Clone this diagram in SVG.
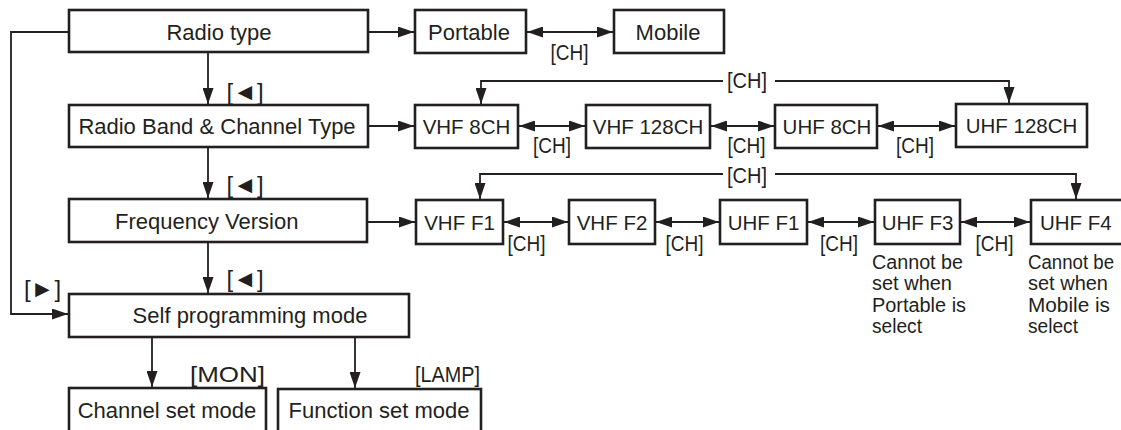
<svg xmlns="http://www.w3.org/2000/svg" width="1121" height="430" viewBox="0 0 1121 430">
<style>
.box{fill:#fff;stroke:#231f20;stroke-width:2.6}
.ln{fill:none;stroke:#231f20;stroke-width:1.8}
.t{font-family:"Liberation Sans",Arial,sans-serif;fill:#231f20}
.big{font-size:22px}
.mid{font-size:20.5px}
.c{font-size:21.5px}
.n{font-size:20px}
.sym{font-size:24px}
.m{text-anchor:middle}
</style>
<defs>
<marker id="ah" markerUnits="userSpaceOnUse" markerWidth="16" markerHeight="11" refX="16" refY="5.5" orient="auto-start-reverse"><path d="M0,0 L16,5.5 L0,11 z" fill="#231f20"/></marker>
</defs>
<rect width="1121" height="430" fill="#fff"/>
<g id="connectors">
<path class="ln" d="M69,32 H11 V314 H68" marker-end="url(#ah)"/>
<path class="ln" d="M208,52 V104" marker-end="url(#ah)"/>
<path class="ln" d="M208,147 V198" marker-end="url(#ah)"/>
<path class="ln" d="M208,242 V293" marker-end="url(#ah)"/>
<path class="ln" d="M368,32 H414" marker-end="url(#ah)"/>
<path class="ln" d="M527,32 H613" marker-start="url(#ah)" marker-end="url(#ah)"/>
<path class="ln" d="M368,126 H414" marker-end="url(#ah)"/>
<path class="ln" d="M519,126 H585" marker-start="url(#ah)" marker-end="url(#ah)"/>
<path class="ln" d="M711,126 H774" marker-start="url(#ah)" marker-end="url(#ah)"/>
<path class="ln" d="M878,126 H955" marker-start="url(#ah)" marker-end="url(#ah)"/>
<path class="ln" d="M723,81 H481 V104" marker-end="url(#ah)"/>
<path class="ln" d="M775,81 H1009 V103" marker-end="url(#ah)"/>
<path class="ln" d="M367,222 H415" marker-end="url(#ah)"/>
<path class="ln" d="M504,222 H568" marker-start="url(#ah)" marker-end="url(#ah)"/>
<path class="ln" d="M656,222 H719" marker-start="url(#ah)" marker-end="url(#ah)"/>
<path class="ln" d="M808,222 H874" marker-start="url(#ah)" marker-end="url(#ah)"/>
<path class="ln" d="M961,222 H1030" marker-start="url(#ah)" marker-end="url(#ah)"/>
<path class="ln" d="M723,174 H480 V199" marker-end="url(#ah)"/>
<path class="ln" d="M775,174 H1076 V199" marker-end="url(#ah)"/>
<path class="ln" d="M152,337 V387" marker-end="url(#ah)"/>
<path class="ln" d="M355,337 V388" marker-end="url(#ah)"/>
<text class="t c m" x="569.5" y="60" textLength="38" lengthAdjust="spacingAndGlyphs">[CH]</text>
<text class="t c m" x="552" y="153" textLength="38" lengthAdjust="spacingAndGlyphs">[CH]</text>
<text class="t c m" x="746.5" y="153" textLength="38" lengthAdjust="spacingAndGlyphs">[CH]</text>
<text class="t c m" x="915" y="153" textLength="38" lengthAdjust="spacingAndGlyphs">[CH]</text>
<text class="t c m" x="747" y="88" textLength="40" lengthAdjust="spacingAndGlyphs">[CH]</text>
<text class="t c m" x="747" y="183" textLength="40" lengthAdjust="spacingAndGlyphs">[CH]</text>
<text class="t c m" x="526.5" y="251" textLength="38" lengthAdjust="spacingAndGlyphs">[CH]</text>
<text class="t c m" x="684.5" y="251" textLength="38" lengthAdjust="spacingAndGlyphs">[CH]</text>
<text class="t c m" x="839" y="251" textLength="38" lengthAdjust="spacingAndGlyphs">[CH]</text>
<text class="t c m" x="994.5" y="251" textLength="38" lengthAdjust="spacingAndGlyphs">[CH]</text>
<text class="t sym m" x="245" y="100">[◄]</text>
<text class="t sym m" x="245" y="193">[◄]</text>
<text class="t sym m" x="245" y="287">[◄]</text>
<text class="t sym m" x="42.5" y="297">[►]</text>
<text class="t big" x="265" y="382" text-anchor="end" textLength="75" lengthAdjust="spacingAndGlyphs">[MON]</text>
<text class="t c" x="480" y="382" text-anchor="end" textLength="65" lengthAdjust="spacingAndGlyphs">[LAMP]</text>
</g>
<g id="n-radio-type"><rect class="box" x="69" y="10" width="299" height="42"/><text class="t big m" x="219" y="40">Radio type</text></g>
<g id="n-portable"><rect class="box" x="415" y="10" width="111" height="43"/><text class="t big m" x="469" y="40">Portable</text></g>
<g id="n-mobile"><rect class="box" x="614" y="10" width="110" height="43"/><text class="t big m" x="668" y="40">Mobile</text></g>
<g id="n-band"><rect class="box" x="69" y="105" width="299" height="42"/><text class="t big m" x="217" y="134">Radio Band &amp; Channel Type</text></g>
<g id="n-vhf8"><rect class="box" x="415" y="105" width="103" height="43"/><text class="t mid m" x="466.5" y="134">VHF 8CH</text></g>
<g id="n-vhf128"><rect class="box" x="586" y="105" width="124" height="43"/><text class="t mid m" x="648" y="134">VHF 128CH</text></g>
<g id="n-uhf8"><rect class="box" x="775" y="105" width="102" height="43"/><text class="t mid m" x="827" y="134">UHF 8CH</text></g>
<g id="n-uhf128"><rect class="box" x="956" y="104" width="131" height="43"/><text class="t mid m" x="1021.5" y="133">UHF 128CH</text></g>
<g id="n-freq"><rect class="box" x="69" y="199" width="298" height="43"/><text class="t big" x="115" y="229">Frequency Version</text></g>
<g id="n-vhff1"><rect class="box" x="416" y="200" width="87" height="44"/><text class="t mid m" x="459.5" y="230">VHF F1</text></g>
<g id="n-vhff2"><rect class="box" x="569" y="200" width="86" height="44"/><text class="t mid m" x="612" y="230">VHF F2</text></g>
<g id="n-uhff1"><rect class="box" x="720" y="200" width="87" height="44"/><text class="t mid m" x="763.5" y="230">UHF F1</text></g>
<g id="n-uhff3"><rect class="box" x="875" y="200" width="85" height="44"/>
<text class="t mid m" x="917.5" y="230">UHF F3</text>
<text class="t n" x="872" y="269" textLength="91" lengthAdjust="spacingAndGlyphs">Cannot be</text>
<text class="t n" x="872" y="290" textLength="80" lengthAdjust="spacingAndGlyphs">set when</text>
<text class="t n" x="872" y="312" textLength="94" lengthAdjust="spacingAndGlyphs">Portable is</text>
<text class="t n" x="872" y="333" textLength="50" lengthAdjust="spacingAndGlyphs">select</text></g>
<g id="n-uhff4"><rect class="box" x="1031" y="200" width="95" height="44"/>
<text class="t mid" x="1040" y="230">UHF F4</text>
<text class="t n" x="1028" y="269" textLength="86" lengthAdjust="spacingAndGlyphs">Cannot be</text>
<text class="t n" x="1028" y="290" textLength="80" lengthAdjust="spacingAndGlyphs">set when</text>
<text class="t n" x="1028" y="312" textLength="82" lengthAdjust="spacingAndGlyphs">Mobile is</text>
<text class="t n" x="1028" y="333" textLength="50" lengthAdjust="spacingAndGlyphs">select</text></g>
<g id="n-self"><rect class="box" x="69" y="294" width="340" height="43"/><text class="t big m" x="250" y="323">Self programming mode</text></g>
<g id="n-channel"><rect class="box" x="69" y="388" width="197" height="60"/><text class="t big m" x="167" y="418">Channel set mode</text></g>
<g id="n-function"><rect class="box" x="278" y="389" width="203" height="60"/><text class="t big m" x="379" y="418">Function set mode</text></g>
</svg>
